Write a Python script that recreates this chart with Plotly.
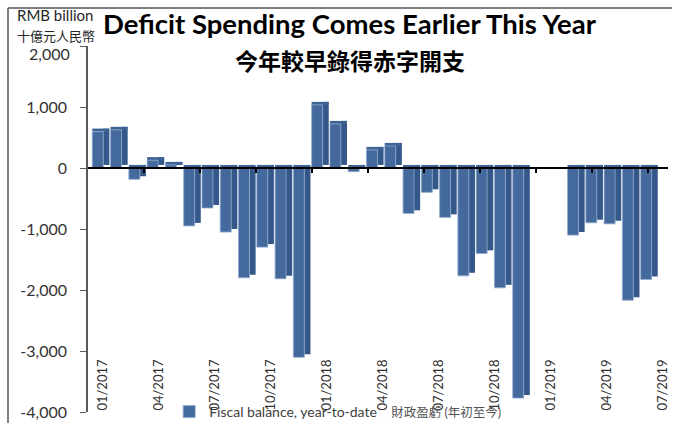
import plotly.graph_objects as go

# Monthly fiscal balance, year-to-date (RMB billion), Jan 2017 - Jul 2019
months = [f"{m:02d}/{y}" for y in (2017, 2018, 2019) for m in range(1, 13)][:31]
balance = [596, 625, -185, 128, 50, -950, -656, -1050, -1800, -1297, -1816, -3103,
           1034, 722, -60, 296, 361, -744, -399, -810, -1768, -1400, -1965, -3772,
           None, None, -1100, -898, -915, -2167, -1828]
tick_every = 3
tick_idx = list(range(0, len(months), tick_every))
tick_text = [months[i] for i in tick_idx]

y_min, y_max = -4000, 2000
y_ticks = list(range(y_min, y_max + 1, 1000))
y_ticktext = [f"{v:,}" for v in y_ticks[:-1]] + [""]  # top value is set as a note below
depth = 50  # apparent depth of the 3-D bars, in value units

idx = list(range(len(months)))
side_base = [depth if v is not None else None for v in balance]
top_base = [max(v, 0) if v is not None else None for v in balance]
top_len = [depth if v is not None else None for v in balance]

FRONT = "#44699c"
SIDE = "#35588a"
TOP = "#3d6494"

fig = go.Figure()
# side face (shifted back/up)
fig.add_trace(go.Bar(x=idx, y=balance, base=side_base, width=0.34, offset=0.13,
                     marker=dict(color=SIDE, line=dict(width=0)),
                     showlegend=False, hoverinfo="skip"))
# top face
fig.add_trace(go.Bar(x=idx, y=top_len, base=top_base, width=0.92, offset=-0.465,
                     marker=dict(color=TOP, line=dict(width=0)),
                     showlegend=False, hoverinfo="skip"))
# front face
fig.add_trace(go.Bar(x=idx, y=balance, width=0.6, offset=-0.465,
                     marker=dict(color=FRONT, line=dict(color="#8fa9cf", width=0.8)),
                     name="Fiscal balance, year-to-date"
                          "&nbsp;&nbsp;&nbsp;&nbsp;<span style='font-size:12.5px;color:#555555'>"
                          "財政盈虧 (年初至今)</span>"))
# invisible anchors so the label axis and the zero-line axis get drawn
for ax in ("x2", "x3"):
    fig.add_trace(go.Scatter(x=tick_idx, y=[0] * len(tick_idx), xaxis=ax, yaxis="y",
                             mode="markers", marker=dict(opacity=0, size=1),
                             showlegend=False, hoverinfo="skip"))

zero_pos = (0 - y_min) / (y_max - y_min)
label_pos = (-3080 - y_min) / (y_max - y_min)
n_lab = 31.07

fig.update_layout(
    width=673, height=423,
    margin=dict(l=88, r=5, t=46, b=11, autoexpand=False),
    paper_bgcolor="white", plot_bgcolor="white",
    barmode="overlay",
    font=dict(family="Lato, Noto Sans CJK TC, sans-serif", color="#333333", size=15),
    xaxis=dict(range=[-0.70, 31.03], showticklabels=False, showline=False,
               showgrid=False, zeroline=False, ticks=""),
    xaxis2=dict(overlaying="x", anchor="free", position=label_pos, range=[-0.5, n_lab - 0.5],
                tickmode="array", tickvals=tick_idx, ticktext=tick_text, tickangle=-90,
                ticks="", showline=False, showgrid=False, zeroline=False,
                ticklabelshift=5, tickfont=dict(size=13, color="#333333")),
    xaxis3=dict(overlaying="x", anchor="free", position=zero_pos, range=[-0.5, n_lab - 0.5],
                tickmode="array", tickvals=[i - 0.5 for i in tick_idx[1:]],
                showticklabels=False, ticks="outside", ticklen=4, tickwidth=1.5,
                tickcolor="black", showline=True, linecolor="black", linewidth=1.5,
                showgrid=False, zeroline=False),
    yaxis=dict(range=[y_min, y_max], tickmode="array",
               tickvals=y_ticks, ticktext=y_ticktext,
               ticks="outside", ticklen=6, tickcolor="#5a5a5a",
               showline=True, linecolor="#5a5a5a", linewidth=1.5,
               showgrid=False, zeroline=False, ticklabelstandoff=10,
               tickfont=dict(size=16, color="#333333")),
    legend=dict(orientation="h", x=0.14, y=0.0, xanchor="left", yanchor="middle",
                font=dict(size=14, color="#404040"), bgcolor="rgba(0,0,0,0)"),
    title=dict(text="<b>Deficit Spending Comes Earlier This Year</b>",
               xref="container", yref="container", x=103 / 673, xanchor="left",
               y=1 - 24 / 423, yanchor="middle",
               font=dict(family="Lato, sans-serif", size=27.5, color="black")),
    shapes=[
        dict(type="line", xref="paper", yref="paper",
             x0=(8 - 88) / 580, x1=(8 - 88) / 580, y0=-11 / 365.7, y1=(411.7 - 8) / 365.7,
             line=dict(color="#555555", width=1.5)),
        dict(type="line", xref="paper", yref="paper",
             x0=(8 - 88) / 580, x1=(672 - 88) / 580, y0=(411.7 - 8) / 365.7,
             y1=(411.7 - 8) / 365.7, line=dict(color="#555555", width=1.5)),
    ],
    annotations=[
        dict(text="<b>今年較早錄得赤字開支</b>", xref="paper", yref="paper",
             x=(350 - 88) / 580, y=(411.7 - 60) / 365.7, xanchor="center", yanchor="middle",
             showarrow=False, font=dict(family="Noto Sans CJK TC", size=23, color="black")),
        dict(text="RMB billion<br><span style='font-size:13px;font-family:Noto Sans CJK TC'>"
                  "十億元人民幣</span>",
             xref="paper", yref="paper", align="left",
             x=(15 - 88) / 580, y=(411.7 - 26) / 365.7, xanchor="left", yanchor="middle",
             showarrow=False, font=dict(size=15, color="#262626")),
        dict(text=f"{y_max:,}", xref="paper", yref="paper",
             x=(72 - 88) / 580, y=(411.7 - 53) / 365.7, xanchor="right", yanchor="middle",
             showarrow=False, font=dict(size=16, color="#333333")),
    ],
)

fig.write_html("out.html")
